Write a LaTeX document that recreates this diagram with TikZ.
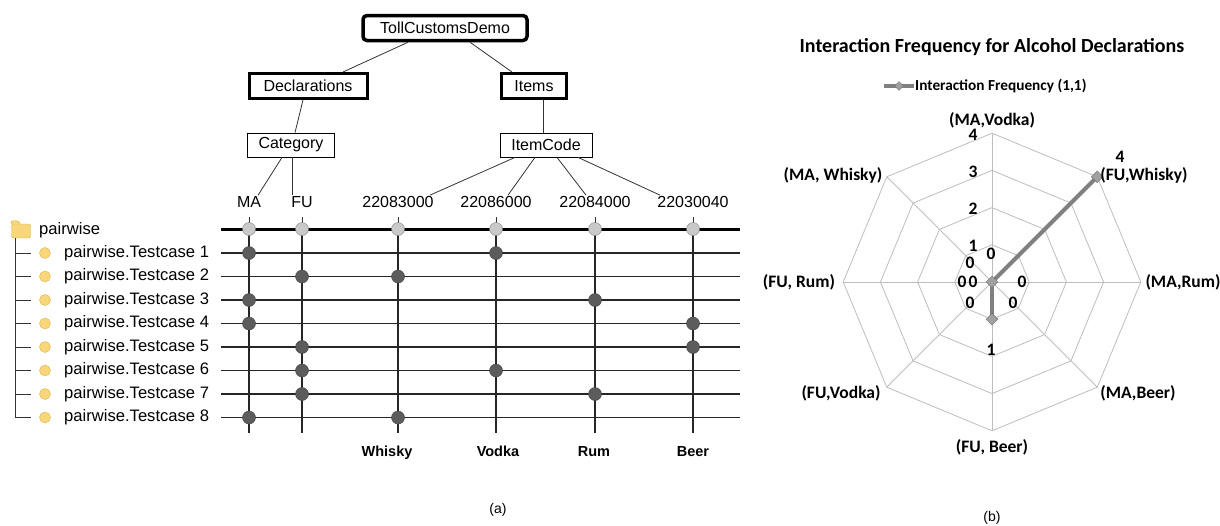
\documentclass[tikz,border=0pt]{standalone}
\usepackage{fontspec}
\setmainfont{Liberation Sans}
\newfontfamily\calfont{Carlito}
\usepackage{xcolor}
\usepackage{tikz}
\usetikzlibrary{calc,shapes.geometric}

\definecolor{dotgray}{HTML}{5C5C5C}
\definecolor{hdrgray}{HTML}{C9C9C9}
\definecolor{gridgray}{HTML}{BDBDBD}
\definecolor{seriesgray}{HTML}{808080}
\definecolor{folderyel}{HTML}{F7D77A}
\definecolor{folderdark}{HTML}{DDB24A}

\begin{document}
\begin{tikzpicture}[
    x=1pt, y=-1pt,
    treebox/.style={draw, rectangle, minimum height=25pt, inner sep=0pt, font=\fontsize{16}{18}\selectfont},
    tline/.style={line width=0.8pt, black!80},
    gridln/.style={line width=1.1pt, black!85},
    hdot/.style={circle, draw=black!50, fill=hdrgray, minimum size=13pt, inner sep=0pt},
    ddot/.style={circle, draw=black!75, fill=dotgray, minimum size=13pt, inner sep=0pt},
    txt/.style={font=\fontsize{16}{18}\selectfont, inner sep=1pt},
    rtxt/.style={font=\fontsize{16.6}{18}\selectfont, inner sep=0pt, anchor=west},
    btxt/.style={font=\fontsize{14.5}{16}\selectfont\bfseries, anchor=base},
    clbl/.style={font=\calfont\bfseries\fontsize{17.5}{19}\selectfont, inner sep=0pt},
    gridline/.style={line width=0.8pt, gridgray},
    series/.style={line width=4pt, seriesgray},
    smark/.style={diamond, draw=black!55, fill=seriesgray!75, minimum size=12pt, inner sep=0pt}
]
    \useasboundingbox (0,0) rectangle (1220,525);

    % Model tree
    \node[treebox, minimum width=164pt, line width=3.5pt, rounded corners=4pt] (tcd) at (445,28) {TollCustomsDemo};
    \node[treebox, minimum width=118pt, line width=3pt] (decl) at (308,86) {Declarations};
    \node[treebox, minimum width=65pt, line width=3pt] (items) at (534,86) {Items};
    \node[treebox, minimum width=87pt, minimum height=24pt, line width=0.8pt] (cat) at (291,145) {Category};
    \node[treebox, minimum width=92pt, minimum height=24pt, line width=0.8pt] (icode) at (546,145) {ItemCode};

    \draw[tline] ([xshift=-37pt]tcd.south) -- ([xshift=35pt]decl.north);
    \draw[tline] ([xshift=25pt]tcd.south) -- ([xshift=-22pt]items.north);
    \draw[tline] ([xshift=-5pt]decl.south) -- ([xshift=4pt]cat.north);
    \draw[tline] ([xshift=9pt]items.south) -- ([xshift=-3pt]icode.north);

    % Leaf values
    \foreach \x/\nm/\lab in {249/ma/MA, 302/fu/FU, 398/wh/22083000, 496/vo/22086000, 595/ru/22084000, 693/be/22030040}{
        \node[txt] (\nm) at (\x,202) {\lab};
        \coordinate (col\nm) at (\x,229);
    }
    \draw[tline] ([xshift=-9pt]cat.south) -- ([xshift=9pt]ma.north);
    \draw[tline] ([xshift=1pt]cat.south) -- ([xshift=-10pt]fu.north);
    \draw[tline] ([xshift=-31pt]icode.south) -- ([xshift=32pt]wh.north);
    \draw[tline] ([xshift=-11pt]icode.south) -- ([xshift=12pt]vo.north);
    \draw[tline] ([xshift=11pt]icode.south) -- ([xshift=-9pt]ru.north);
    \draw[tline] ([xshift=32pt]icode.south) -- ([xshift=-33pt]be.north);

    % Test case rows
    \node[inner sep=0pt, minimum width=19pt, minimum height=14pt, draw=folderdark, fill=folderyel, rounded corners=1.5pt] (folder) at (21,231) {};
    \draw[folderdark, fill=folderyel, rounded corners=1pt] (folder.north west) -- ++(0,-3) -- ++(7,0) -- ++(2,3);
    \node[rtxt] (pw) at (39,230) {pairwise};
    \foreach \i in {1,...,8}{
        \coordinate (rw\i) at (221,{253+23.5*(\i-1)});
        \coordinate (re\i) at (740,{253+23.5*(\i-1)});
        \coordinate (tk\i) at (31,{253+23.5*(\i-1)});
        \node[circle, draw=folderdark, fill=folderyel, minimum size=11pt, inner sep=0pt] (yc\i) at (45,{253+23.5*(\i-1)}) {};
        \node[rtxt] (tc\i) at (64,{253+23.5*(\i-1)}) {pairwise.Testcase \i};
        \draw[gridln] (rw\i) -- (re\i);
        \draw[tline] (tk\i) -- ++(-16,0);
    }
    \draw[tline] ([xshift=-6pt]folder.south) -- ([xshift=-16pt]tk8);

    % Header line and columns
    \coordinate (hl) at (221,229);
    \coordinate (hr) at (740,229);
    \draw[line width=3pt] (hl) -- (hr);
    \foreach \nm in {ma,fu,wh,vo,ru,be}{
        \draw[gridln] (col\nm) -- ++(0,204);
        \draw[tline] (col\nm) -- ++(0,-12);
        \node[hdot] (h\nm) at (col\nm) {};
    }

    % Selected values
    \foreach \i/\a/\b in {1/ma/vo, 2/fu/wh, 3/ma/ru, 4/ma/be, 5/fu/be, 6/fu/vo, 7/fu/ru, 8/ma/wh}{
        \node[ddot] (d\i a) at (col\a |- rw\i) {};
        \node[ddot] (d\i b) at (col\b |- rw\i) {};
    }

    \node[btxt] (whisky) at (387,456) {Whisky};
    \node[btxt] (vodka) at (498,456) {Vodka};
    \node[btxt] (rum) at (594,456) {Rum};
    \node[btxt] (beer) at (693,456) {Beer};
    \node[font=\fontsize{14}{16}\selectfont] (capa) at (498,510) {(a)};

    % Radar chart
    \node[font=\calfont\bfseries\fontsize{20}{22}\selectfont] (title) at (992,47) {Interaction Frequency for Alcohol Declarations};
    \coordinate (lgA) at (884,86);
    \coordinate (lgB) at (914,86);
    \draw[series] (lgA) -- (lgB);
    \node[smark, minimum size=9pt] (lgm) at ($(lgA)!0.5!(lgB)$) {};
    \node[clbl, font=\calfont\bfseries\fontsize{15.3}{17}\selectfont, anchor=west] (lgtxt) at (915,86) {Interaction Frequency (1,1)};

    \coordinate (c) at (992,282);
    \foreach \k in {0,...,7}
        \coordinate (ax\k) at ($(c)+({148.8*sin(45*\k)},{-148.8*cos(45*\k)})$);
    \foreach \j in {1,...,4}
        \draw[gridline] ($(c)!\j/4!(ax0)$) \foreach \k in {1,...,7}{ -- ($(c)!\j/4!(ax\k)$)} -- cycle;
    \foreach \k in {0,...,7}
        \draw[gridline] (c) -- (ax\k);

    \coordinate (p1) at (ax1);
    \coordinate (p4) at ($(c)!0.25!(ax4)$);
    \draw[series] (c) -- (p1);
    \draw[series] (c) -- (p4);
    \node[smark] (m0) at (c) {};
    \node[smark] (m1) at (p1) {};
    \node[smark] (m4) at (p4) {};

    % Axis categories
    \node[clbl] (k0) at (992,120) {(MA,Vodka)};
    \node[clbl] (k1) at (1144,175) {(FU,Whisky)};
    \node[clbl] (k2) at (1183,282) {(MA,Rum)};
    \node[clbl] (k3) at (1138,393) {(MA,Beer)};
    \node[clbl] (k4) at (992,447) {(FU, Beer)};
    \node[clbl] (k5) at (841,393) {(FU,Vodka)};
    \node[clbl] (k6) at (799,282) {(FU, Rum)};
    \node[clbl] (k7) at (833,175) {(MA, Whisky)};

    % Scale and data values
    \foreach \v/\y in {4/135, 3/172, 2/209, 1/246, 0/282}
        \node[clbl] (s\v) at (973,\y) {\v};
    \foreach \n/\x/\y/\v in {0/991/254/0, 1/1120/157/4, 2/1022/282/0, 3/1013/303/0, 4/991/350/1, 5/970/303/0, 6/962/282/0, 7/970/263/0}
        \node[clbl] (v\n) at (\x,\y) {\v};

    \node[font=\fontsize{14}{16}\selectfont] (capb) at (992,518) {(b)};
\end{tikzpicture}
\end{document}
